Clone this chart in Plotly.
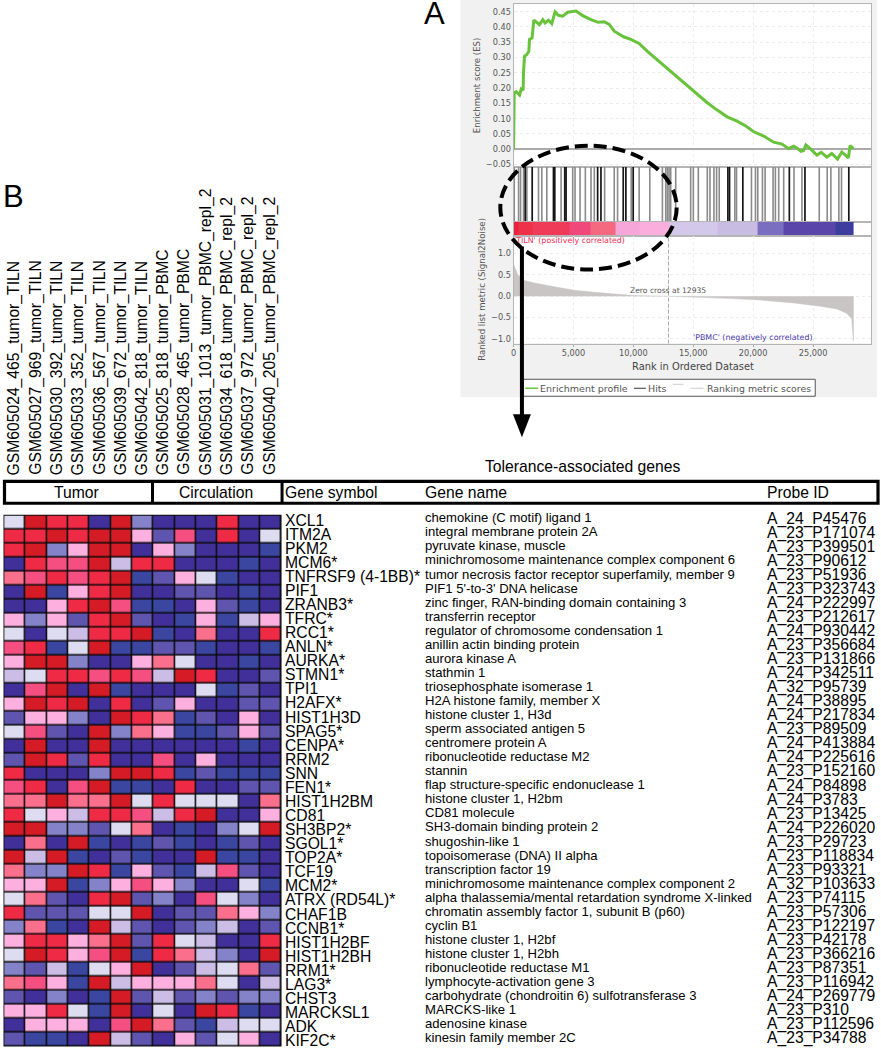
import plotly.graph_objects as go

W, H = 881, 1050

# ---------- Panel A data ----------
es_rank = [0,55,220,500,640,800,830,915,1110,1275,1330,1550,1690,2160,2440,2630,2910,3190,3465,3745,4100,4520,5210,5770,6460,7070,7570,7990,8400,9230,9790,10480,11175,12285,13670,15060,16170,17000,17830,18660,19355,20050,20880,21710,22400,22960,23375,23650,23990,24210,24400,24760,25320,25680,26150,26565,27040,27400,27950,28090,28370]
es_score = [0,.184,.188,.177,.197,.193,.250,.304,.310,.320,.359,.364,.422,.408,.424,.413,.422,.411,.449,.438,.435,.448,.452,.437,.424,.415,.417,.408,.386,.367,.359,.346,.320,.282,.235,.190,.152,.128,.106,.092,.077,.057,.043,.023,.017,.002,.010,.004,-.007,-.004,.014,.002,-.019,-.010,-.026,-.014,-.032,-.009,-.028,.012,.002]
hits_dark = [974,1556,3331,3442,4274,4385,7019,7296,9154,9376,9986,17891,18029,19139,23021,24324,27985]
hits_light = [58,419,585,835,1112,2083,2360,2776,3968,4939,5133,5549,5993,6464,6741,7601,8405,8683,9820,10485,11372,12426,12703,12842,12980,13119,13535,14785,15007,15423,16171,16393,16726,16948,17170,18473,18612,19860,20192,20386,20775,20997,21662,21856,22133,22549,23409,24075,25517,26182,26487,27153,27375]
bar_edges = [0,400,1600,4700,6400,8544,10500,12980,17000,20386,22549,26847,28373]
bar_colors = ["#e9233b","#ee3148","#ef3b58","#f0487a","#f46880","#f6a6d8","#f9aedd","#d4c8ea","#c9bce3","#7a6ec0","#5a46aa","#3d3da0"]
metric_rank = [0,360,915,1750,3410,5070,6740,8400,10070,12935,15060,17830,20600,23380,25590,26980,27810,28230,28370,28371]
metric_val = [.74,.5,.37,.31,.22,.14,.09,.05,.015,0,-.015,-.05,-.09,-.156,-.234,-.3,-.4,-.53,-1.05,0]
zero_cross = 12935

# ---------- Panel B data ----------
samples = ["GSM605024_465_tumor_TILN","GSM605027_969_tumor_TILN","GSM605030_392_tumor_TILN","GSM605033_352_tumor_TILN","GSM605036_567_tumor_TILN","GSM605039_672_tumor_TILN","GSM605042_818_tumor_TILN","GSM605025_818_tumor_PBMC","GSM605028_465_tumor_PBMC","GSM605031_1013_tumor_PBMC_repl_2","GSM605034_618_tumor_PBMC_repl_2","GSM605037_972_tumor_PBMC_repl_2","GSM605040_205_tumor_PBMC_repl_2"]
gene_symbols = ["XCL1","ITM2A","PKM2","MCM6*","TNFRSF9 (4-1BB)*","PIF1","ZRANB3*","TFRC*","RCC1*","ANLN*","AURKA*","STMN1*","TPI1","H2AFX*","HIST1H3D","SPAG5*","CENPA*","RRM2","SNN","FEN1*","HIST1H2BM","CD81","SH3BP2*","SGOL1*","TOP2A*","TCF19","MCM2*","ATRX (RD54L)*","CHAF1B","CCNB1*","HIST1H2BF","HIST1H2BH","RRM1*","LAG3*","CHST3","MARCKSL1","ADK","KIF2C*"]
gene_names = ["chemokine (C motif) ligand 1","integral membrane protein 2A","pyruvate kinase, muscle","minichromosome maintenance complex component 6","tumor necrosis factor receptor superfamily, member 9","PIF1 5'-to-3' DNA helicase","zinc finger, RAN-binding domain containing 3","transferrin receptor","regulator of chromosome condensation 1","anillin actin binding protein","aurora kinase A","stathmin 1","triosephosphate isomerase 1","H2A histone family, member X","histone cluster 1, H3d","sperm associated antigen 5","centromere protein A","ribonucleotide reductase M2","stannin","flap structure-specific endonuclease 1","histone cluster 1, H2bm","CD81 molecule","SH3-domain binding protein 2","shugoshin-like 1","topoisomerase (DNA) II alpha","transcription factor 19","minichromosome maintenance complex component 2","alpha thalassemia/mental retardation syndrome X-linked","chromatin assembly factor 1, subunit B (p60)","cyclin B1","histone cluster 1, H2bf","histone cluster 1, H2bh","ribonucleotide reductase M1","lymphocyte-activation gene 3","carbohydrate (chondroitin 6) sulfotransferase 3","MARCKS-like 1","adenosine kinase","kinesin family member 2C"]
probe_ids = ["A_24_P45476","A_23_P171074","A_23_P399501","A_23_P90612","A_23_P51936","A_23_P323743","A_24_P222997","A_23_P212617","A_24_P930442","A_23_P356684","A_23_P131866","A_24_P342511","A_32_P95739","A_24_P38895","A_24_P217834","A_23_P89509","A_24_P413884","A_24_P225616","A_23_P152160","A_24_P84898","A_24_P3783","A_23_P13425","A_24_P226020","A_23_P29723","A_23_P118834","A_23_P93321","A_32_P103633","A_23_P74115","A_23_P57306","A_23_P122197","A_23_P42178","A_23_P366216","A_23_P87351","A_23_P116942","A_24_P269779","A_23_P310","A_23_P112596","A_23_P34788"]
# one letter per cell: the expression level class
level_keys = "nbmplwkshrd"
level_colors = ["#41309a","#3a469f","#5f55ae","#8482c8","#cbbde6","#dedcf0","#fdb0e0","#f96f8c","#f44f80","#ef2a45","#d51c26"]
heat_rows = ["wdrrndpnnnrnn","rrdrddkmhnrnw","rdpkddnkpnnnb","nrhhdlrrnnnbn","shrhrdbmkwbnn","ndbkrdnnmmnbn","nnkrdhbbnkmbn","kpkmrdmnbkblk","wnwlrrdbnsnnr","hrbwdbbmmbnnb","kddpnnkswnnbn","lwrrhrhldrnnm","nhdndbnnnwbmn","kdrdnrnmknnmm","mkkpndrsbmnkn","whmndpskbbmkm","ndnndnnnnnnbn","mdrmrnnhnknnn","rnnnpddrbmbbb","hrnhdbbnrnnmm","ssdssdwrwwwns","rwklrrhlrdnnk","ddppmwsnbnpwd","nsndbnbmbnbmn","dldbnmbnndbbn","sppdrbkmblhmn","kkdbpkhkpnnwb","wsmnrdmpnhwpn","rmmmwwdnmmskp","psbndlmnmplnm","krrksdmrwlnnr","wdrkhdbrslpnd","pmlbwkdnmlwsm","shkbdlkkkswnl","mnpnbdmlmpmpp","kkrwbdnwndrbn","nkkknhdsmblww","mbbndlmnkmwkn"]

# ---------- helpers ----------
def px(x): return x / W
def py(y): return 1 - y / H
SANS = "DejaVu Sans"
ARIAL = "Liberation Sans"
GREY = "#555555"
annotations, shapes = [], []

def label(text, x, y, size, color="#000000", family=ARIAL, xa="left", ya="middle", angle=0):
    annotations.append(dict(text=text, x=px(x), y=py(y), xref="paper", yref="paper", xanchor=xa, yanchor=ya,
                            showarrow=False, textangle=angle, font=dict(family=family, size=size, color=color),
                            borderpad=0, borderwidth=0))

def rect(x0, y0, x1, y1, fill=None, line=None, width=1, layer="below"):
    shapes.append(dict(type="rect", xref="paper", yref="paper", x0=px(x0), x1=px(x1), y0=py(y0), y1=py(y1),
                       fillcolor=fill or "rgba(0,0,0,0)", line=dict(color=line or "rgba(0,0,0,0)", width=width), layer=layer))

def seg(x0, y0, x1, y1, color, width, layer="above"):
    shapes.append(dict(type="line", xref="paper", yref="paper", x0=px(x0), x1=px(x1), y0=py(y0), y1=py(y1),
                       line=dict(color=color, width=width), layer=layer))

def drop_lines(ranks):
    xs, ys = [], []
    for r in ranks:
        xs += [r, r, None]
        ys += [0, 1, None]
    return xs, ys

# ---------- traces ----------
fig = go.Figure()
fig.add_trace(go.Scatter(x=es_rank, y=es_score, mode="lines", line=dict(color="#68c23a", width=3), xaxis="x", yaxis="y", showlegend=False))
xs, ys = drop_lines(hits_light)
fig.add_trace(go.Scatter(x=xs, y=ys, mode="lines", line=dict(color="#8a8a8a", width=1.6), xaxis="x2", yaxis="y2", showlegend=False))
xs, ys = drop_lines(hits_dark)
fig.add_trace(go.Scatter(x=xs, y=ys, mode="lines", line=dict(color="#161616", width=1.7), xaxis="x2", yaxis="y2", showlegend=False))
n_bar = len(bar_colors)
bar_scale = []
for i, c in enumerate(bar_colors):
    bar_scale += [[i / n_bar, c], [(i + 1) / n_bar, c]]
fig.add_trace(go.Heatmap(x=bar_edges, y=[0, 1], z=[list(range(n_bar))], colorscale=bar_scale, zmin=-0.5, zmax=n_bar - 0.5,
                         showscale=False, xaxis="x3", yaxis="y3", hoverinfo="skip"))
fig.add_trace(go.Scatter(x=metric_rank, y=metric_val, mode="lines", fill="tozeroy", fillcolor="#c9c5c5",
                         line=dict(color="#c9c5c5", width=0.5), xaxis="x4", yaxis="y4", showlegend=False))
fig.add_trace(go.Scatter(x=[zero_cross, zero_cross], y=[-1.11, 1.42], mode="lines", line=dict(color="#aaaaaa", width=1, dash="4px,2px"),
                         xaxis="x4", yaxis="y4", showlegend=False))
n_lev = len(level_colors)
lev_scale = []
for i, c in enumerate(level_colors):
    lev_scale += [[i / n_lev, c], [(i + 1) / n_lev, c]]
heat_z = [[level_keys.index(ch) for ch in row] for row in heat_rows]
fig.add_trace(go.Heatmap(z=heat_z, colorscale=lev_scale, zmin=-0.5, zmax=n_lev - 0.5, showscale=False, xgap=1.5, ygap=1.5,
                         xaxis="x5", yaxis="y5", hoverinfo="skip"))

# ---------- backgrounds ----------
rect(459, 0, 877, 398, fill="#f1f1f1")
rect(512.3, 4, 871, 344, fill="#ffffff")
rect(0.5, 515.7, 279.5, 1048.5, fill="#0a0a0a")

# ---------- GSEA text ----------
label("A", 422, 14, 31)
label("B", 0, 197, 31)
label("Enrichment score (ES)", 475, 85, 8.6, GREY, SANS, "center", "middle", -90)
label("Ranked list metric (Signal2Noise)", 481, 290, 8.6, GREY, SANS, "center", "middle", -90)
label("Rank in Ordered Dataset", 692, 367, 9.9, "#444444", SANS, "center")
label("'TILN' (positively correlated)", 513, 241, 7.9, "#f0305a", SANS)
label("'PBMC' (negatively correlated)", 692, 338, 7.9, "#4a3aa8", SANS)
label("Zero cross at 12935", 667, 291, 7.6, GREY, SANS, "center")

# legend
rect(522, 380, 815, 397, fill="#ffffff", line="#555555", width=1, layer="above")
seg(524, 389, 537, 389, "#68c23a", 1.5)
label("Enrichment profile", 539, 389, 9.5, GREY, SANS)
seg(633, 389, 645, 389, "#333333", 1)
label("Hits", 647, 389, 9.5, GREY, SANS)
seg(672, 385, 683, 385, "#cccccc", 1)
seg(690, 389, 703, 389, "#cccccc", 1)
label("Ranking metric scores", 706, 389, 9.4, GREY, SANS)

# dashed ellipse and arrow
shapes.append(dict(type="circle", xref="paper", yref="paper", x0=px(499), x1=px(676), y0=py(146), y1=py(270),
                   line=dict(color="#000000", width=4, dash="13px,6px"), layer="above"))
seg(520.7, 247, 520.7, 417, "#000000", 4)
shapes.append(dict(type="path", xref="paper", yref="paper", layer="above", fillcolor="#000000", line=dict(width=0),
                   path=f"M {px(511.7)} {py(415)} L {px(529.7)} {py(415)} L {px(520.7)} {py(438)} Z"))

# ---------- Panel B text ----------
label("Tolerance-associated genes", 581, 467, 15.7, "#000000", ARIAL, "center")
rect(1.5, 482.3, 878, 504.2, line="#000000", width=3.2, layer="above")
seg(150, 482, 150, 504.5, "#000000", 3)
seg(280, 482, 280, 504.5, "#000000", 3)
label("Tumor", 74, 493, 15.7, "#000000", ARIAL, "center")
label("Circulation", 214, 493, 15.7, "#000000", ARIAL, "center")
label("Gene symbol", 282.5, 493, 15.7)
label("Gene name", 423.5, 493, 15.7)
label("Probe ID", 767, 493, 15.7)

for i, name in enumerate(samples):
    annotations.append(dict(text=name, x=i, xref="x5", y=py(476), yref="paper", xanchor="center", yanchor="bottom", xshift=-1,
                            showarrow=False, textangle=-90, borderpad=0, borderwidth=0, font=dict(family=ARIAL, size=15.7, color="#000000")))
for i in range(len(gene_symbols)):
    label(gene_symbols[i], 282.5, 521.0 + 14.1 * i, 15.7)
    label(gene_names[i], 423.5, 518.8 + 14.08 * i, 13.1)
    label(probe_ids[i], 767, 519.5 + 14.08 * i, 15.7)

# ---------- axes ----------
x_range = [0, 29840]
gsea_common = dict(range=x_range, domain=[px(512.3), px(871)], showline=True, linecolor="#b5b5b5", linewidth=1, mirror=True, zeroline=False)
grid = dict(showgrid=True, gridcolor="#ececec", griddash="dot", gridwidth=1)
layout_axes = dict(
    xaxis=dict(gsea_common, anchor="y", tickvals=[5000,10000,15000,20000,25000], showticklabels=False, ticks="", **grid),
    yaxis=dict(anchor="x", domain=[py(167.3), py(4)], range=[-0.058, 0.475], tickvals=[-.05,0,.05,.1,.15,.2,.25,.3,.35,.4,.45], tickformat=".2f",
               tickfont=dict(family=SANS, size=8.2, color=GREY), ticks="", showline=True, linecolor="#b5b5b5", mirror=True,
               zeroline=True, zerolinecolor="#aaaaaa", zerolinewidth=1.5, **grid),
    xaxis2=dict(gsea_common, anchor="y2", showticklabels=False, ticks="", showgrid=False),
    yaxis2=dict(anchor="x2", domain=[py(222), py(167.3)], range=[0, 1], showticklabels=False, ticks="", showgrid=False,
                zeroline=False, showline=True, linecolor="#b5b5b5", mirror=True),
    xaxis3=dict(gsea_common, anchor="y3", showticklabels=False, ticks="", showgrid=False),
    yaxis3=dict(anchor="x3", domain=[py(236), py(222)], range=[0, 1], showticklabels=False, ticks="", showgrid=False,
                zeroline=False, showline=True, linecolor="#b5b5b5", mirror=True),
    xaxis4=dict(gsea_common, anchor="y4", tickvals=[0,5000,10000,15000,20000,25000], tickformat=",d", ticks="outside", ticklen=2,
                tickcolor="#aaaaaa", tickfont=dict(family=SANS, size=8.2, color=GREY), **grid),
    yaxis4=dict(anchor="x4", domain=[py(344.3), py(236)], range=[-1.11, 1.42], tickvals=[-1,-.5,0,.5,1], tickformat=".1f",
                tickfont=dict(family=SANS, size=8.2, color=GREY), ticks="", showline=True, linecolor="#b5b5b5", mirror=True,
                zeroline=False, **grid),
    xaxis5=dict(anchor="y5", domain=[px(1.2), px(279.5)], range=[-0.5, 12.5], showticklabels=False, ticks="", showgrid=False, zeroline=False),
    yaxis5=dict(anchor="x5", domain=[py(1048.5), py(516.5)], range=[37.5, -0.5], showticklabels=False, ticks="", showgrid=False, zeroline=False),
)

fig.update_layout(width=W, height=H, autosize=False, margin=dict(l=0, r=0, t=0, b=0), paper_bgcolor="#ffffff",
                  plot_bgcolor="rgba(0,0,0,0)", showlegend=False, annotations=annotations, shapes=shapes, **layout_axes)
fig.write_html("out.html", config=dict(displayModeBar=False), post_script="document.body.style.margin='0';")
